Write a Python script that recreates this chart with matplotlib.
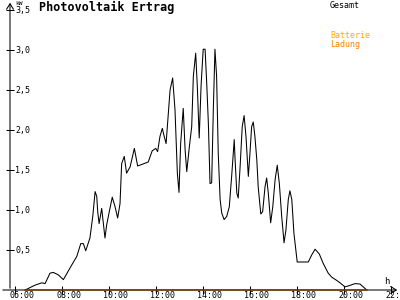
import matplotlib
matplotlib.use('Agg')
import matplotlib.pyplot as plt
from matplotlib.transforms import ScaledTranslation

# Gesamt (kW) over time of day (hours)
stunden = [6.45, 6.87, 7.16, 7.30, 7.51, 7.65, 7.86, 8.08, 8.43, 8.65,
           8.82, 8.93, 9.03, 9.21, 9.33, 9.43, 9.50, 9.54, 9.60, 9.71,
           9.85, 9.92, 10.02, 10.16, 10.28, 10.39, 10.49, 10.56, 10.67, 10.77,
           10.92, 11.10, 11.24, 11.69, 11.86, 12.01, 12.09, 12.19, 12.29, 12.37,
           12.45, 12.62, 12.73, 12.83, 12.93, 13.00, 13.07, 13.18, 13.26, 13.33,
           13.44, 13.54, 13.61, 13.71, 13.78, 13.86, 13.94, 14.03, 14.11, 14.18,
           14.25, 14.32, 14.39, 14.46, 14.53, 14.60, 14.67, 14.75, 14.82, 14.92,
           15.03, 15.14, 15.24, 15.31, 15.35, 15.38, 15.46, 15.52, 15.60, 15.69,
           15.77, 15.85, 15.95, 16.02, 16.09, 16.16, 16.23, 16.31, 16.37, 16.48,
           16.56, 16.66, 16.73, 16.80, 16.90, 16.99, 17.09, 17.18, 17.27, 17.37,
           17.47, 17.55, 17.65, 17.72, 17.80, 17.89, 18.03, 18.50, 18.65, 18.79,
           18.97, 19.14, 19.35, 19.50, 19.71, 19.85, 20.06, 20.20, 20.49, 20.70,
           20.99]
gesamt = [0.00, 0.06, 0.09, 0.08, 0.21, 0.22, 0.19, 0.13, 0.31, 0.42,
          0.58, 0.58, 0.49, 0.65, 0.92, 1.23, 1.17, 0.98, 0.83, 1.02,
          0.65, 0.81, 0.96, 1.16, 1.04, 0.90, 1.08, 1.58, 1.67, 1.46,
          1.54, 1.77, 1.55, 1.60, 1.74, 1.77, 1.73, 1.92, 2.02, 1.92,
          1.83, 2.50, 2.65, 2.25, 1.46, 1.22, 1.83, 2.27, 1.75, 1.48,
          1.79, 2.04, 2.67, 2.96, 2.54, 1.90, 2.56, 3.01, 3.01, 2.58,
          2.08, 1.33, 1.34, 2.25, 3.01, 2.67, 1.71, 1.13, 0.96, 0.88,
          0.92, 1.04, 1.42, 1.71, 1.88, 1.67, 1.21, 1.15, 1.54, 2.04,
          2.18, 1.92, 1.42, 1.71, 2.04, 2.10, 1.92, 1.63, 1.29, 0.95,
          0.98, 1.29, 1.40, 1.21, 0.84, 1.04, 1.38, 1.56, 1.33, 0.92,
          0.59, 0.75, 1.13, 1.24, 1.13, 0.71, 0.35, 0.35, 0.44, 0.51,
          0.45, 0.33, 0.21, 0.16, 0.12, 0.09, 0.04, 0.05, 0.08, 0.075,
          0.00]

# Batterie Ladung (kW)
ladung_stunden = [6.45, 20.99]
ladung = [0.0, 0.0]

y_ticks = [0.5, 1.0, 1.5, 2.0, 2.5, 3.0, 3.5]
y_labels = ['0,5', '1,0', '1,5', '2,0', '2,5', '3,0', '3,5']
x_ticks = [6, 8, 10, 12, 14, 16, 18, 20, 22]
x_labels = ['06:00', '08:00', '10:00', '12:00', '14:00', '16:00', '18:00', '20:00', '22:00']

mono = 'DejaVu Sans Mono'

fig = plt.figure(figsize=(4, 3), dpi=100)
ax = fig.add_axes([0.025, 10 / 300, 0.975, 290 / 300])
ax.set_xlim(5.8085, 22.404)
ax.set_ylim(0, 3.625)
for s in ax.spines.values():
    s.set_visible(False)

ax.plot(stunden, gesamt, color='black', lw=0.75, zorder=3)
ax.plot(ladung_stunden, ladung, color='#ff8000', lw=1.1, zorder=4, clip_on=False)

# axes with arrows
fig.add_artist(matplotlib.patches.FancyArrowPatch((0, 10), (400, 10), transform=None,
               arrowstyle='->,head_length=4,head_width=2.5', lw=0.75, color='black', zorder=2))
fig.add_artist(matplotlib.patches.FancyArrowPatch((10, 9), (10, 300), transform=None,
               arrowstyle='->,head_length=4,head_width=2.5', lw=0.75, color='black', zorder=2))

ax.set_yticks(y_ticks)
ax.tick_params(axis='y', direction='inout', length=6, width=0.75, labelleft=False)
for v, t in zip(y_ticks, y_labels):
    ax.text(0, v, t, transform=ax.get_yaxis_transform() + ScaledTranslation(5 / 100, 0, fig.dpi_scale_trans),
            ha='left', va='center', fontsize=6, family=mono)

ax.set_xticks(x_ticks)
ax.set_xticklabels(x_labels, fontsize=6, family=mono)
ax.tick_params(axis='x', direction='inout', length=6, width=0.75, pad=-2)
for lab in ax.get_xticklabels():
    lab.set_transform(lab.get_transform() + ScaledTranslation(7 / 100, 0, fig.dpi_scale_trans))

fig.text(15 / 400, 1 - 3.5 / 300, 'kW', fontsize=4.5, family=mono, ha='left', va='center')
fig.text(387 / 400, 1 - 281 / 300, 'h', fontsize=6.5, family=mono, ha='center', va='center')
fig.text(39 / 400, 1 - 7.5 / 300, 'Photovoltaik Ertrag', fontsize=8.5, family=mono,
         weight='bold', ha='left', va='center')

fig.text(330 / 400, 1 - 5 / 300, 'Gesamt', fontsize=6, family=mono, color='black', va='center')
fig.text(330 / 400, 1 - 35.5 / 300, 'Batterie', fontsize=6, family=mono, color='#ffaa00', va='center')
fig.text(330 / 400, 1 - 44 / 300, 'Ladung', fontsize=6, family=mono, color='#ff8000', va='center')

fig.savefig('out.png', dpi=100)
